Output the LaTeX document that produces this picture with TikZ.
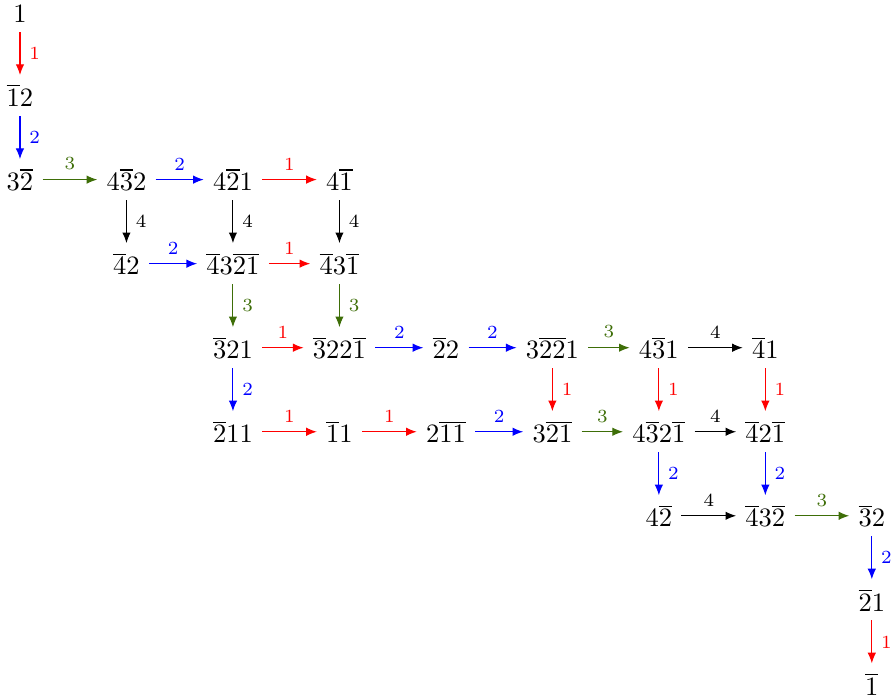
\documentclass[tikz,border=0pt]{standalone}
\usepackage{amsmath,amssymb}
\usepackage{xcolor}
\usepackage{tikz}
\usetikzlibrary{arrows.meta}
\definecolor{grn}{RGB}{62,110,8}
\newcommand{\ob}[1]{\overline{#1}}

\begin{document}
\begin{tikzpicture}[
  x=1.412cm, y=-1.1145cm,
  elem/.style={anchor=base},
  arr/.style={-{Latex[length=4pt,width=3.2pt]}},
  lab/.style={font=\scriptsize},
  e1/.style={arr, red},
  e2/.style={arr, blue},
  e3/.style={arr, grn},
  e4/.style={arr, black},
]
\useasboundingbox ([xshift=-0.265cm,yshift=0.301cm]0,0) rectangle ([xshift=0.294cm,yshift=-0.039cm]8,8);
% rows, top to bottom
\node[elem] (v1) at (0,0) {$1$};
\node[elem] (v2) at (0,1) {$\ob{1}2$};
\node[elem] (v3) at (0,2) {$3\ob{2}$};
\node[elem] (v4) at (1,2) {$4\ob{3}2$};
\node[elem] (v5) at (2,2) {$4\ob{2}1$};
\node[elem] (v6) at (3,2) {$4\ob{1}$};
\node[elem] (v7) at (1,3) {$\ob{4}2$};
\node[elem] (v8) at (2,3) {$\ob{4}3\ob{21}$};
\node[elem] (v9) at (3,3) {$\ob{4}3\ob{1}$};
\node[elem] (v10) at (2,4) {$\ob{3}21$};
\node[elem] (v11) at (3,4) {$\ob{3}22\ob{1}$};
\node[elem] (v12) at (4,4) {$\ob{2}2$};
\node[elem] (v13) at (5,4) {$3\ob{22}1$};
\node[elem] (v14) at (6,4) {$4\ob{3}1$};
\node[elem] (v15) at (7,4) {$\ob{4}1$};
\node[elem] (v16) at (2,5) {$\ob{2}11$};
\node[elem] (v17) at (3,5) {$\ob{1}1$};
\node[elem] (v18) at (4,5) {$2\ob{11}$};
\node[elem] (v19) at (5,5) {$3\ob{21}$};
\node[elem] (v20) at (6,5) {$4\ob{3}2\ob{1}$};
\node[elem] (v21) at (7,5) {$\ob{4}2\ob{1}$};
\node[elem] (v22) at (6,6) {$4\ob{2}$};
\node[elem] (v23) at (7,6) {$\ob{4}3\ob{2}$};
\node[elem] (v24) at (8,6) {$\ob{3}2$};
\node[elem] (v25) at (8,7) {$\ob{2}1$};
\node[elem] (v26) at (8,8) {$\ob{1}$};
% edges
\draw[e1] (v1) -- node[lab, right]{1} (v2);
\draw[e2] (v2) -- node[lab, right]{2} (v3);
\draw[e3] (v3) -- node[lab, above]{3} (v4);
\draw[e2] (v4) -- node[lab, above]{2} (v5);
\draw[e1] (v5) -- node[lab, above]{1} (v6);
\draw[e4] (v4) -- node[lab, right]{4} (v7);
\draw[e4] (v5) -- node[lab, right]{4} (v8);
\draw[e4] (v6) -- node[lab, right]{4} (v9);
\draw[e2] (v7) -- node[lab, above]{2} (v8);
\draw[e1] (v8) -- node[lab, above]{1} (v9);
\draw[e3] (v8) -- node[lab, right]{3} (v10);
\draw[e3] (v9) -- node[lab, right]{3} (v11);
\draw[e1] (v10) -- node[lab, above]{1} (v11);
\draw[e2] (v11) -- node[lab, above]{2} (v12);
\draw[e2] (v12) -- node[lab, above]{2} (v13);
\draw[e3] (v13) -- node[lab, above]{3} (v14);
\draw[e4] (v14) -- node[lab, above]{4} (v15);
\draw[e2] (v10) -- node[lab, right]{2} (v16);
\draw[e1] (v13) -- node[lab, right]{1} (v19);
\draw[e1] (v14) -- node[lab, right]{1} (v20);
\draw[e1] (v15) -- node[lab, right]{1} (v21);
\draw[e1] (v16) -- node[lab, above]{1} (v17);
\draw[e1] (v17) -- node[lab, above]{1} (v18);
\draw[e2] (v18) -- node[lab, above]{2} (v19);
\draw[e3] (v19) -- node[lab, above]{3} (v20);
\draw[e4] (v20) -- node[lab, above]{4} (v21);
\draw[e2] (v20) -- node[lab, right]{2} (v22);
\draw[e2] (v21) -- node[lab, right]{2} (v23);
\draw[e4] (v22) -- node[lab, above]{4} (v23);
\draw[e3] (v23) -- node[lab, above]{3} (v24);
\draw[e2] (v24) -- node[lab, right]{2} (v25);
\draw[e1] (v25) -- node[lab, right]{1} (v26);
\end{tikzpicture}
\end{document}
